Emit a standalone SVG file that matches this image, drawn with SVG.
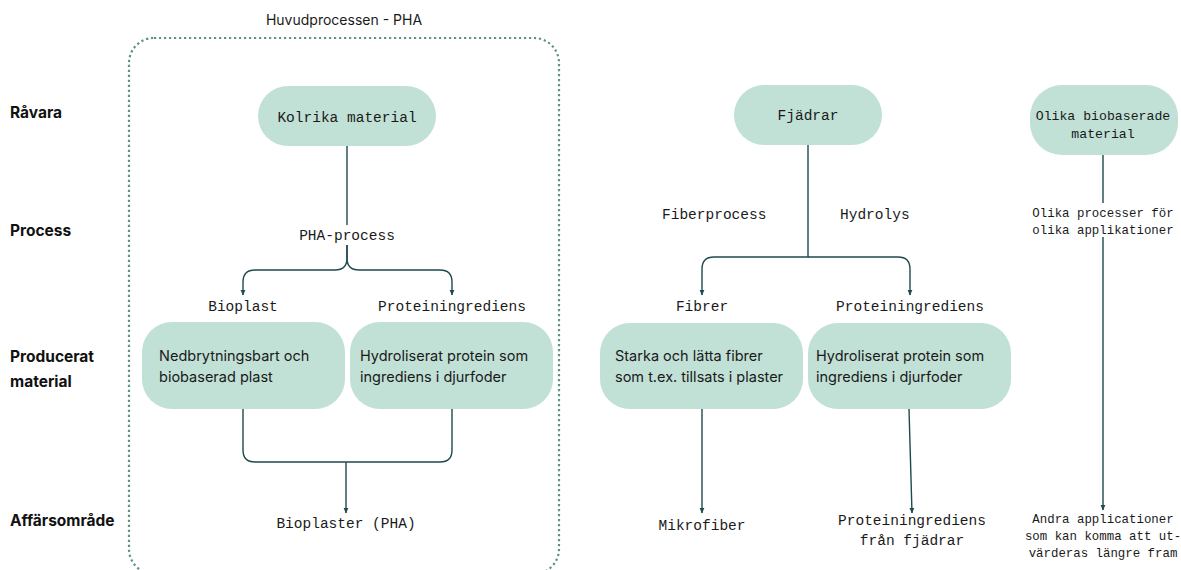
<svg xmlns="http://www.w3.org/2000/svg" width="1181" height="570" viewBox="0 0 1181 570">
<style>
.node{fill:#c1e0d6;}
.mono{font-family:"Liberation Mono","DejaVu Sans Mono",monospace;fill:#1a1a1a;}
.sans{font-family:Inter,"Liberation Sans",sans-serif;fill:#1a1a1a;}
.row{font-family:Inter,"Liberation Sans",sans-serif;font-weight:bold;font-size:15.5px;fill:#111;}
.c{fill:none;stroke:#1f4a4f;stroke-width:1.4;}
.dot{fill:none;stroke:#5f918b;stroke-width:2.2;stroke-dasharray:2.2 2.8;}
</style>
<defs>
<marker id="a" markerWidth="6" markerHeight="6" refX="5" refY="3" orient="auto" markerUnits="userSpaceOnUse" viewBox="0 0 6 6">
<path d="M0,0.6 L5.5,3 L0,5.4 Z" fill="#1f4a4f"/>
</marker>
</defs>
<rect width="1181" height="570" fill="#ffffff"/>

<g id="row-labels">
<text class="row" x="10" y="118">Råvara</text>
<text class="row" x="10" y="236">Process</text>
<text class="row" x="10" y="362">Producerat</text>
<text class="row" x="10" y="387">material</text>
<text class="row" x="10" y="526">Affärsområde</text>
</g>

<g id="pha-group">
<text class="sans" x="344" y="25" font-size="14" text-anchor="middle">Huvudprocessen - PHA</text>
<rect class="dot" x="129" y="38" width="430" height="536" rx="25"/>
</g>

<g id="connectors">
<path class="c" d="M347,146 V225"/>
<path class="c" d="M347,245 V258 Q347,270 335,270 H255 Q243,270 243,282 V295" marker-end="url(#a)"/>
<path class="c" d="M347,245 V258 Q347,270 359,270 H440 Q452,270 452,282 V295" marker-end="url(#a)"/>
<path class="c" d="M243,409 V450 Q243,462 255,462 H440 Q452,462 452,450 V409"/>
<path class="c" d="M346,462 V513" marker-end="url(#a)"/>
<path class="c" d="M808,145 V257 H714 Q702,257 702,269 V295" marker-end="url(#a)"/>
<path class="c" d="M808,257 H898 Q910,257 910,269 V295" marker-end="url(#a)"/>
<path class="c" d="M702,409 V513" marker-end="url(#a)"/>
<path class="c" d="M909,409 L912,513" marker-end="url(#a)"/>
<path class="c" d="M1103,155 V203"/>
<path class="c" d="M1103,237 V510" marker-end="url(#a)"/>
</g>

<g id="kolrika">
<rect class="node" x="258" y="86" width="178" height="60" rx="30"/>
<text class="mono" x="347" y="122" font-size="14.5" text-anchor="middle">Kolrika material</text>
</g>
<g id="pha-process">
<text class="mono" x="347" y="240" font-size="14.5" text-anchor="middle">PHA-process</text>
</g>
<g id="bioplast-label">
<text class="mono" x="243" y="311" font-size="14.5" text-anchor="middle">Bioplast</text>
</g>
<g id="protein-label-1">
<text class="mono" x="452" y="311" font-size="14.5" text-anchor="middle">Proteiningrediens</text>
</g>
<g id="nedbrytning">
<rect class="node" x="142" y="322" width="203" height="87" rx="30"/>
<text class="sans" font-size="14.5" x="159" y="361">Nedbrytningsbart och</text>
<text class="sans" font-size="14.5" x="159" y="382">biobaserad plast</text>
</g>
<g id="hydro-1">
<rect class="node" x="350" y="322" width="203" height="87" rx="30"/>
<text class="sans" font-size="14.5" x="360" y="361">Hydroliserat protein som</text>
<text class="sans" font-size="14.5" x="360" y="382">ingrediens i djurfoder</text>
</g>
<g id="bioplaster">
<text class="mono" x="346" y="528" font-size="14.5" text-anchor="middle">Bioplaster (PHA)</text>
</g>

<g id="fjadrar">
<rect class="node" x="734" y="85" width="148" height="60" rx="30"/>
<text class="mono" x="808" y="120" font-size="14.5" text-anchor="middle">Fjädrar</text>
</g>
<g id="fiberprocess">
<text class="mono" x="662" y="219" font-size="14.5">Fiberprocess</text>
</g>
<g id="hydrolys">
<text class="mono" x="840" y="219" font-size="14.5">Hydrolys</text>
</g>
<g id="fibrer-label">
<text class="mono" x="702" y="311" font-size="14.5" text-anchor="middle">Fibrer</text>
</g>
<g id="protein-label-2">
<text class="mono" x="910" y="311" font-size="14.5" text-anchor="middle">Proteiningrediens</text>
</g>
<g id="starka">
<rect class="node" x="600" y="323" width="203" height="86" rx="30"/>
<text class="sans" font-size="14.5" x="615" y="361">Starka och lätta fibrer</text>
<text class="sans" font-size="14.5" x="615" y="382">som t.ex. tillsats i plaster</text>
</g>
<g id="hydro-2">
<rect class="node" x="808" y="323" width="203" height="86" rx="30"/>
<text class="sans" font-size="14.5" x="816" y="361">Hydroliserat protein som</text>
<text class="sans" font-size="14.5" x="816" y="382">ingrediens i djurfoder</text>
</g>
<g id="mikrofiber">
<text class="mono" x="702" y="530" font-size="14.5" text-anchor="middle">Mikrofiber</text>
</g>
<g id="protein-fjadrar">
<text class="mono" x="912" y="525" font-size="14.5" text-anchor="middle">Proteiningrediens</text>
<text class="mono" x="912" y="545" font-size="14.5" text-anchor="middle">från fjädrar</text>
</g>

<g id="olika">
<rect class="node" x="1030" y="85" width="148" height="70" rx="32"/>
<text class="mono" x="1103" y="120" font-size="13.2" text-anchor="middle">Olika biobaserade</text>
<text class="mono" x="1103" y="138" font-size="13.2" text-anchor="middle">material</text>
</g>
<g id="olika-processer">
<text class="mono" x="1103" y="217" font-size="12.4" text-anchor="middle">Olika processer för</text>
<text class="mono" x="1103" y="234" font-size="12.4" text-anchor="middle">olika applikationer</text>
</g>
<g id="andra">
<text class="mono" x="1103" y="523" font-size="12.4" text-anchor="middle">Andra applicationer</text>
<text class="mono" x="1103" y="540" font-size="12.4" text-anchor="middle">som kan komma att ut-</text>
<text class="mono" x="1103" y="557" font-size="12.4" text-anchor="middle">värderas längre fram</text>
</g>
</svg>
